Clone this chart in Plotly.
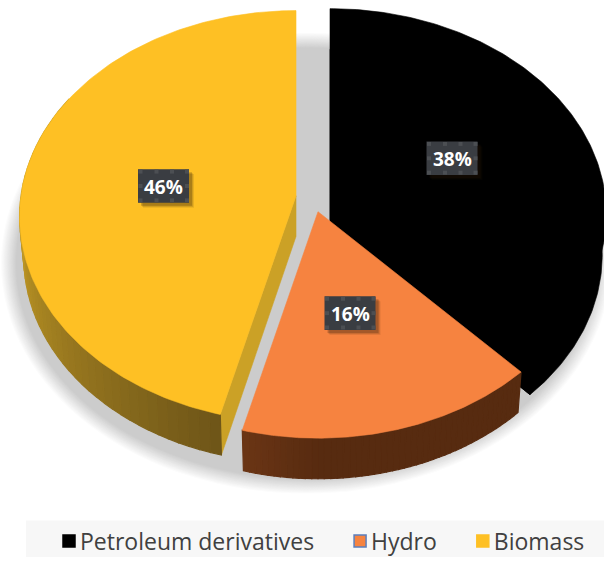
import numpy as np
import plotly.graph_objects as go

categories = ["Petroleum derivatives", "Hydro", "Biomass"]
shares = [38, 16, 46]
slice_colors = ["#000000", "#F68340", "#FEC024"]
wall_near = ["#000000", "#6B3515", "#C9A027"]
wall_far = ["#000000", "#572B10", "#6E5518"]
legend_lines = ["#000000", "#5B7FBD", "#FEC024"]

# Pixel-like canvas and the projection of the tilted, exploded pie
W, H = 604, 563
apex = [(330, 196), (318, 214), (296, 198)]
RX, RY, K, DEPTH, BOTTOM_SCALE = 275, 206, 0.10, 41, 0.985
label_centers = [(452, 160), (350, 316.5), (163.5, 188)]
BOX_W, BOX_H = 51, 34

edges = np.cumsum([0] + shares) / sum(shares) * 2 * np.pi


def project(theta, centre):
    w = 1 + K * np.cos(theta)
    return centre[0] + RX * np.sin(theta) / w, centre[1] - RY * np.cos(theta) / w


def lower(x, y, centre):
    return centre[0] + (x - centre[0]) * BOTTOM_SCALE, y + DEPTH


def mix(c1, c2, t):
    a = [int(c1[i:i + 2], 16) for i in (1, 3, 5)]
    b = [int(c2[i:i + 2], 16) for i in (1, 3, 5)]
    return "rgb(%d,%d,%d)" % tuple(round(p + (q - p) * t) for p, q in zip(a, b))


fig = go.Figure()
shapes = []

# Soft shadow under the pie
n_shadow = 16
for i in range(n_shadow):
    t = i / (n_shadow - 1)
    g = 1 - t
    rx, ry = 306 - 16 * t, 234 - 16 * t
    cx, cy = 306, 266
    shapes.append(dict(type="circle", layer="below", x0=cx - rx, x1=cx + rx,
                       y0=cy - ry, y1=cy + ry, line_width=0,
                       fillcolor=mix("#CCCCCC", "#FFFFFF", g)))


def poly(xs, ys, colour, lw=0.6):
    fig.add_trace(go.Scatter(x=xs, y=ys, mode="lines", fill="toself", fillcolor=colour,
                             line=dict(color=colour, width=lw), hoverinfo="skip",
                             showlegend=False))


for idx in [0, 2, 1]:
    a0, a1 = edges[idx], edges[idx + 1]
    c = apex[idx]
    th = np.linspace(a0, a1, 160)
    tx, ty = project(th, c)
    # radial side of the wedge that faces the viewer
    if idx == 0:
        ex, ey = project(a1, c)
        bx, by = lower(tx, ty, c)
        poly(np.r_[c[0], bx, c[0]], np.r_[c[1] + DEPTH, by, c[1] + DEPTH], slice_colors[0])
        ebx, eby = lower(ex, ey, c)
        poly([c[0], ex, ebx, c[0], c[0]],
             [c[1], ey, eby, c[1] + DEPTH, c[1]], slice_colors[0])
    if idx == 2:
        ex, ey = project(a0, c)
        bx, by = lower(ex, ey, c)
        poly([c[0], ex, bx, c[0], c[0]],
             [c[1], ey, by, c[1] + DEPTH, c[1]], "#CBA126")
    # outer rim, shaded in strips
    vis_to = a1 if idx != 2 else np.radians(300)
    if idx != 0:
        n = 48
        cuts = np.linspace(a0, vis_to, n + 1)
        for j in range(n):
            seg = np.linspace(cuts[j], cuts[j + 1], 6)
            sx, sy = project(seg, c)
            lx, ly = lower(sx, sy, c)
            u = (j + 0.5) / n
            if idx == 1:
                colour = mix(wall_far[1], wall_near[1], max(0, (u - 0.75) / 0.25))
            else:
                colour = mix(wall_far[2], wall_near[2], min(1, u / 0.75))
            poly(np.r_[sx, lx[::-1], sx[0]], np.r_[sy, ly[::-1], sy[0]], colour, lw=1.2)
    # top face
    poly(np.r_[c[0], tx, c[0]], np.r_[c[1], ty, c[1]], slice_colors[idx])

# Legend entries
for name, colour, edge in zip(categories, slice_colors, legend_lines):
    fig.add_trace(go.Scatter(x=[None], y=[None], mode="markers", name=name + "\u00a0\u00a0",
                             marker=dict(symbol="square", size=12, color=colour,
                                         line=dict(color=edge, width=1.5))))

# Legend band
shapes.append(dict(type="rect", layer="below", x0=26, x1=W, y0=526, y1=H,
                   line_width=0, fillcolor="#F7F7F7"))

# Percentage boxes
annotations = []
for share, (cx, cy) in zip(shares, label_centers):
    x0, x1, y0, y1 = cx - BOX_W / 2, cx + BOX_W / 2, cy - BOX_H / 2, cy + BOX_H / 2
    for off, alpha in ((5, 0.10), (4, 0.14), (3, 0.22)):
        shapes.append(dict(type="rect", layer="above", x0=x0 + off, x1=x1 + off,
                           y0=y0 + off, y1=y1 + off, line_width=0,
                           fillcolor="rgba(40,25,10,%.2f)" % alpha))
    shapes.append(dict(type="rect", layer="above", x0=x0, x1=x1, y0=y0, y1=y1,
                       line_width=0, fillcolor="#3A3D42"))
    for dx in (2.5, 18.5, 34, 49):
        for dy in (2.5, 17, 31.5):
            shapes.append(dict(type="rect", layer="above", x0=x0 + dx - 2, x1=x0 + dx + 2,
                               y0=y0 + dy - 2, y1=y0 + dy + 2, line_width=0,
                               fillcolor="#4C4F53"))
    annotations.append(dict(x=cx, y=cy, text="<b>%d%%</b>" % share, showarrow=False,
                            yshift=-1,
                            font=dict(family="Open Sans", size=19, color="#FFFFFF")))

fig.update_layout(
    width=W, height=H, margin=dict(l=0, r=0, t=0, b=0),
    paper_bgcolor="#FFFFFF", plot_bgcolor="#FFFFFF",
    xaxis=dict(range=[0, W], visible=False, fixedrange=True),
    yaxis=dict(range=[H, 0], visible=False, fixedrange=True),
    shapes=shapes, annotations=annotations,
    legend=dict(orientation="h", x=40 / W, xanchor="left", y=1 - 547 / H, yanchor="middle",
                bgcolor="rgba(0,0,0,0)", traceorder="normal",
                font=dict(family="Open Sans", size=23, color="#404040")),
)
post = """
document.body.style.margin='0';
document.documentElement.style.overflow='hidden';
var gd=document.getElementById('{plot_id}');
function nudge(){document.querySelectorAll('.legendsymbols').forEach(function(s){s.setAttribute('transform','translate(9,0)');});}
nudge();
gd.on('plotly_afterplot',nudge);
"""
fig.write_html("out.html", config={"displayModeBar": False}, post_script=post)
